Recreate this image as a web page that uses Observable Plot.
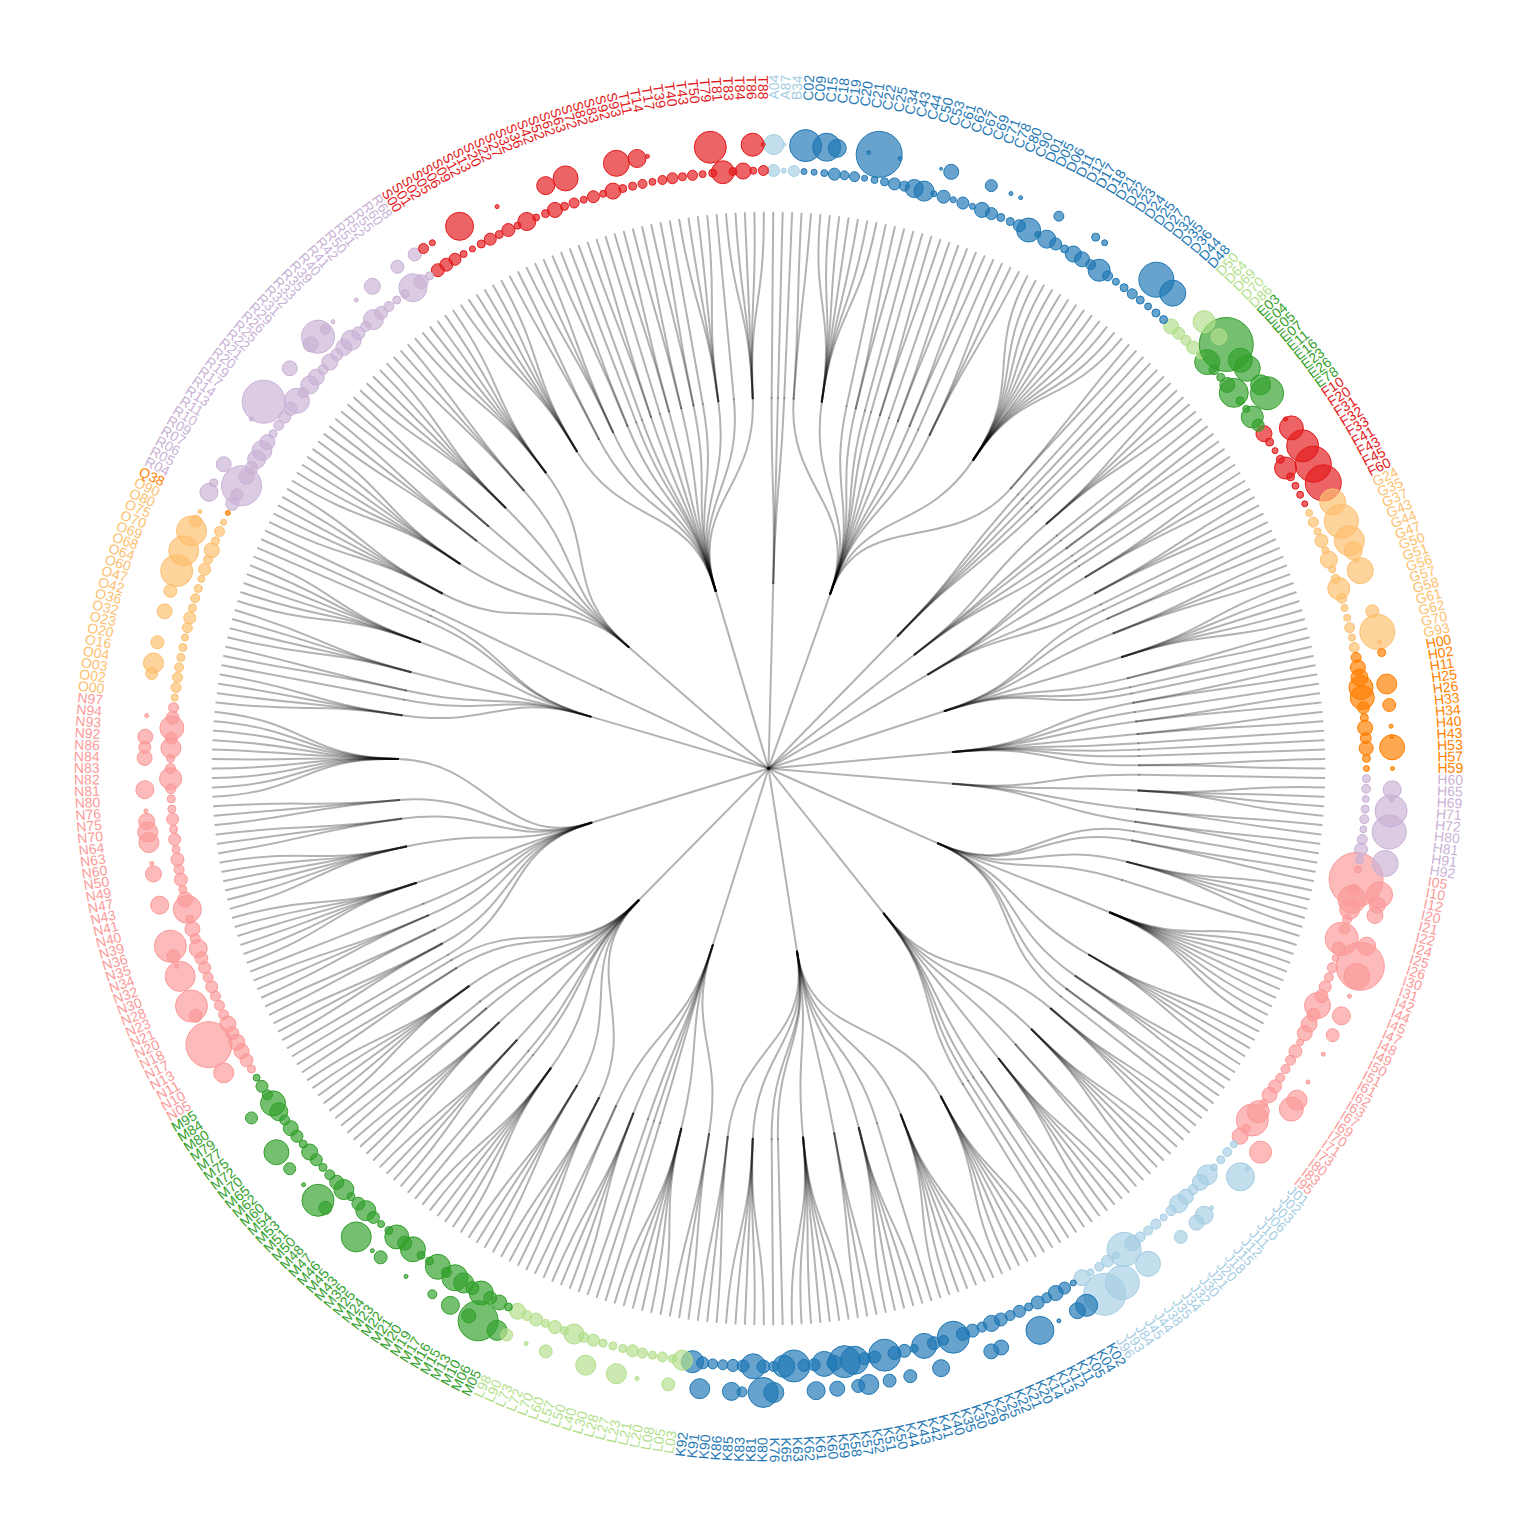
<!DOCTYPE html>
<html><head><meta charset="utf-8">
<script src="https://cdn.jsdelivr.net/npm/d3@7"></script>
<script src="https://cdn.jsdelivr.net/npm/@observablehq/plot@0.6"></script>
<style>html,body{margin:0;padding:0;background:#fff;} svg{display:block}</style>
</head><body><div id="chart"></div>
<script>
// ---- leaf codes, in clockwise order from the top ----
const codes = [
"A04","A87","B34",
"C02","C09","C15","C18","C19","C20","C21","C22","C25","C34","C43","C44","C50","C53","C61","C62","C67","C69","C71","C78","C80","C90",
"D01","D05","D06","D11","D12","D17","D18","D21","D22","D23","D24","D25","D27","D32","D35","D36","D44","D48",
"D50","D64","D69","D70","D86",
"E03","E04","E05","E07","E11","E16","E23","E26","E78",
"F10","F20","F31","F32","F33","F41","F43","F45","F60",
"G24","G35","G37","G43","G44","G47","G50","G51","G56","G57","G58","G61","G62","G70","G93",
"H00","H02","H11","H25","H26","H33","H34","H40","H43","H53","H57","H59",
"H60","H65","H69","H71","H72","H80","H81","H91","H92",
"I05","I10","I12","I20","I21","I22","I24","I25","I26","I30","I31","I42","I44","I45","I47","I48","I49","I50","I51","I61","I62","I63","I67","I69","I70","I71","I73","I80","I83","I95",
"J01","J02","J03","J06","J10","J11","J12","J15","J18","J20","J21","J30","J32","J34","J35","J38","J44","J45","J84","J93","J96",
"K02","K04","K05","K11","K12","K13","K14","K20","K21","K22","K25","K26","K29","K30","K35","K40","K41","K42","K43","K44","K50","K51","K52","K57","K58","K59","K60","K61","K62","K63","K65","K76","K80","K81","K83","K85","K86","K90","K91","K92",
"L03","L05","L08","L20","L21","L23","L27","L28","L30","L40","L50","L57","L60","L70","L72","L73","L90","L98",
"M05","M06","M10","M13","M15","M16","M17","M19","M20","M21","M22","M23","M24","M25","M35","M43","M45","M46","M47","M48","M50","M51","M53","M54","M60","M62","M65","M70","M72","M75","M77","M79","M80","M84","M95",
"N05","N10","N11","N13","N17","N18","N20","N21","N23","N28","N30","N32","N34","N35","N36","N39","N40","N41","N43","N47","N49","N50","N60","N63","N64","N70","N75","N76","N80","N81","N82","N83","N84","N86","N92","N93","N94","N97",
"O00","O02","O03","O04","O16","O20","O23","O32","O36","O42","O47","O60","O64","O68","O69","O70","O75","O80","O90",
"Q38",
"R04","R05","R06","R07","R09","R10","R11","R13","R14","R17","R19","R20","R21","R22","R25","R26","R29","R31","R32","R33","R35","R39","R40","R41","R42","R50","R51","R52","R55","R60","R68",
"S00","S01","S02","S05","S06","S09","S12","S13","S20","S22","S27","S32","S36","S42","S52","S62","S63","S72","S82","S83","S92","S93","T11","T14","T17","T39","T40","T43","T50","T79","T81","T83","T84","T86","T88"
];

// ---- inner ring values (one per code) ----
const innerValues = [
36,6,30,
9,9,12,36,20,25,9,12,16,36, 25,81,100,9,42,9,36,9,56,36, 16,16,36,144,9,81,36,16,64,56, 25,121,25,12,16,25,16,12,16,16,
56,36,25,42,16,
156,25,16,56,210,16,12,121,36,
64,16,9,16,121,16,12,12,9,
12,25,12,42,12,72,12,20,121,25,12,12,25,12,25,
25,56,72,144,144,36,16,56,30,49,16,9,
16,20,12,16,20,12,25,42,16,
12,729,25,196,100,20,25,272,42,12, 25,20,36,42,169,42,64,56,12,42, 25,20,20,42,56,16,121,256,16,64,
12,20,16,12,100,64,25,56,81,25, 12,25,20,25,56,289,12,36,20,12, 64,
9,36,56,25,42,16,36,25,42,64, 25,42,42,256,25,42,156,16,42,42, 256,36,36,196,256,56,156,36,36,256, 121,25,42,156,36,36,25,25,36,121,
100,16,25,16,25,36,16,16,16,36,25,100,16,42,16,42,25,64,
16,56,42,144,42,100,169,25,156,16, 16,156,49,144,16,12,36,100,42,16, 100,49,25,16,36,64,16,36,56,25, 81,156,25,36,12,
16,42,56,64,42,64,25, 25,25,36,25,36,42,81,25,56,16, 196,56,16,42,25,42,16,36,16,36, 16,16,25,121,25,16,100,36,144,42, 25,
12,25,25,20,16,16,12,25,36,16,20,16,12,36,20,56,16,25,9,
6,
42,36,400,56,42,81,100,56,16,25, 36,42,156,25,81,64,25,64,36,64, 100,42,25,100,42,25,16,16,196,49,16,
42,42,36,12,9,16,36,16,42,12, 81,12,16,56,16,25,12,36,12,64, 16,16,20,12,20,30,16,25,12,16, 132,16,64,12,25
];

// ---- outer ring values (0 = no outer bubble) ----
const outerValues = [
100,2,0,256,0,196,81,0,0,4,
529,0,4,0,0,0,2,56,0,0,
0,36,0,4,4,0,0,0,25,0,
0,0,16,9,0,0,0,0,0,306,
0,169,0,0,0,121,0,64,729,0,
144,169,0,100,272,0,0,4,144,0,
256,0,324,0,324,0,169,0,289,0,
225,81,4,169,0,0,0,42,0,306,
4,16,0,0,100,0,42,0,4,4,
156,0,4,0,81,4,256,0,289,0,
0,169,0,0,169,64,64,0,0,81,
0,576,169,0,4,0,81,0,42,0,
4,0,0,4,0,100,144,0,0,0,
0,121,0,4,196,0,0,0,4,81,
56,0,42,0,0,0,156,0,0,289,
0,441,0,121,64,0,4,0,196,0,
0,0,56,56,0,0,0,0,72,0,
0,42,0,42,0,100,42,0,56,0,
81,0,0,0,100,225,0,25,81,0,
0,100,0,0,42,0,0,4,0,100,
0,0,100,0,0,0,42,0,4,0,
36,100,0,400,49,0,81,0,20,0,
0,4,0,0,42,4,0,225,0,0,
0,42,256,0,4,0,36,0,156,0,
0,0,36,0,0,0,0,100,0,0,
529,0,0,42,256,0,0,225,4,42,
256,0,0,0,81,0,0,64,4,0,
100,100,64,4,0,81,0,0,56,36,
56,0,4,0,0,0,36,100,0,42,
0,0,56,0,42,0,256,0,225,0,
225,36,4,0,81,16,0,56,0,0,
0,0,4,0,462,0,0,0,56,0,
0,56,272,25,4,0,0,4,0,64,
0,0,42,0,42,25,9,0,0,196,
0,0,0,4,0,0,0,0,81,0,
156,0,0,0,0,169,0,81,4,0,
0,0,0,0,256,0,0,0,132,4
];

// ---- chapter groups and their colours ----
const groupNames = ["A–B","C–D48","D50–D89","E","F","G","H00–H59","H60–H95","I","J","K","L","M","N","O","Q","R","S–T"];
const groupColors = ["#a6cee3","#1f78b4","#b2df8a","#33a02c","#e31a1c","#fdbf6f","#ff7f00","#cab2d6","#fb9a99","#a6cee3","#1f78b4","#b2df8a","#33a02c","#fb9a99","#fdbf6f","#ff7f00","#cab2d6","#e31a1c"];

// ---- block start codes (ICD-10 blocks) ----
const blockStarts = [
"A00","A15","A20","A30","A50","A65","A70","A75","A80","A92","B00","B15","B20","B25","B35","B50","B65","B85","B90","B95","B99",
"C00","C15","C30","C40","C43","C45","C50","C51","C60","C64","C69","C73","C76","C81","C97","D00","D10","D37",
"D50","D55","D60","D65","D70","D80",
"E00","E10","E15","E20","E40","E50","E65","E70",
"F00","F10","F20","F30","F40","F50","F60","F70","F80","F90","F99",
"G00","G10","G20","G30","G35","G40","G50","G60","G70","G80","G90",
"H00","H10","H15","H25","H30","H40","H43","H46","H49","H53","H55",
"H60","H65","H80","H90",
"I00","I05","I10","I20","I26","I30","I60","I70","I80","I95",
"J00","J09","J20","J30","J40","J60","J80","J85","J90","J95",
"K00","K20","K35","K40","K50","K55","K65","K70","K80","K90",
"L00","L10","L20","L40","L50","L55","L60","L80",
"M00","M05","M15","M20","M30","M40","M45","M50","M60","M65","M70","M80","M86","M91","M95",
"N00","N10","N17","N20","N25","N30","N40","N60","N70","N80","N99",
"O00","O10","O20","O30","O60","O80","O85","O94",
"Q00","Q10","Q20","Q30","Q35","Q38","Q50","Q60","Q65","Q80","Q90",
"R00","R10","R20","R25","R30","R40","R47","R50","R70","R80","R83","R90","R95",
"S00","S10","S20","S30","S40","S50","S60","S70","S80","S90","T00","T08","T15","T20","T33","T36","T51","T66","T79","T80","T90"
];

// ---- layout constants ----
const LEAF_R = 556, INNER_R = 598, OUTER_R = 624, LABEL_R = 669;

function groupOf(c) {
  const L = c[0], n = +c.slice(1);
  if (L === "A" || L === "B") return "A–B";
  if (L === "C") return "C–D48";
  if (L === "D") return n < 50 ? "C–D48" : "D50–D89";
  if (L === "H") return n < 60 ? "H00–H59" : "H60–H95";
  if (L === "S" || L === "T") return "S–T";
  return L;
}
function blockOf(c) {
  let b = blockStarts[0];
  for (const s of blockStarts) if (s <= c) b = s;
  return b;
}

const leafData = codes.map((code, i) => ({code, i, group: groupOf(code), block: blockOf(code),
  inner: innerValues[i] || 0, outer: outerValues[i] || 0}));
const nested = d3.group(leafData, d => d.group, d => d.block);
const root = d3.hierarchy([null, nested], ([, v]) =>
  v instanceof Map ? Array.from(v) : Array.isArray(v) ? v.map(d => [d.code, d]) : null);
d3.cluster().size([2 * Math.PI, LEAF_R]).separation(() => 1)(root);

const P = (a, r) => ({x: r * Math.sin(a), y: r * Math.cos(a)});

const linkRows = [];
root.links().forEach((l, k) => {
  const s = l.source, t = l.target;
  if (s.depth === 0) {
    linkRows.push({id: k, ...P(t.x, 0)}, {id: k, ...P(t.x, t.y)});
  } else {
    const m = (s.y + t.y) / 2;
    linkRows.push({id: k, ...P(s.x, s.y)}, {id: k, ...P(s.x, m)}, {id: k, ...P(t.x, m)}, {id: k, ...P(t.x, t.y)});
  }
});

const leafNodes = root.leaves().map(n => ({...n.data[1], a: n.x}));
const innerRows = leafNodes.filter(d => d.inner > 0).map(d => ({...d, ...P(d.a, INNER_R), value: d.inner}));
const outerRows = leafNodes.filter(d => d.outer > 0).map(d => ({...d, ...P(d.a, OUTER_R), value: d.outer}));
const labelRows = leafNodes.map(d => {
  const deg = d.a * 180 / Math.PI;
  const right = d.a < Math.PI;
  return {...d, ...P(d.a, LABEL_R), rot: right ? deg - 90 : deg + 90, right};
});

function bezier(context) {
  let pts;
  return {
    areaStart() {}, areaEnd() {},
    lineStart() { pts = []; },
    point(x, y) { pts.push([+x, +y]); },
    lineEnd() {
      if (pts.length === 4) {
        context.moveTo(pts[0][0], pts[0][1]);
        context.bezierCurveTo(pts[1][0], pts[1][1], pts[2][0], pts[2][1], pts[3][0], pts[3][1]);
      } else if (pts.length > 1) {
        context.moveTo(pts[0][0], pts[0][1]);
        for (let k = 1; k < pts.length; k++) context.lineTo(pts[k][0], pts[k][1]);
      }
    }
  };
}

const font = "'Liberation Sans', Arial, Helvetica, sans-serif";
const dotStyle = {fill: "group", stroke: "group", fillOpacity: 0.68, strokeOpacity: 1, strokeWidth: 1};
const chart = Plot.plot({
  width: 1536, height: 1536, margin: 0,
  style: {background: "#fff"},
  x: {domain: [-768, 768], axis: null},
  y: {domain: [-768, 768], axis: null},
  r: {type: "sqrt", domain: [0, 729], range: [0, 27]},
  color: {domain: groupNames, range: groupColors},
  marks: [
    Plot.line(linkRows, {x: "x", y: "y", z: "id", curve: bezier, stroke: "#000", strokeOpacity: 0.3, strokeWidth: 2}),
    Plot.dot(innerRows, {x: "x", y: "y", r: "value", ...dotStyle}),
    Plot.dot(outerRows, {x: "x", y: "y", r: "value", ...dotStyle}),
    Plot.text(labelRows.filter(d => d.right), {x: "x", y: "y", text: "code", rotate: "rot", textAnchor: "start", fill: "group", fontSize: 14, fontFamily: font}),
    Plot.text(labelRows.filter(d => !d.right), {x: "x", y: "y", text: "code", rotate: "rot", textAnchor: "end", fill: "group", fontSize: 14, fontFamily: font})
  ]
});
document.getElementById("chart").appendChild(chart);
</script></body></html>
